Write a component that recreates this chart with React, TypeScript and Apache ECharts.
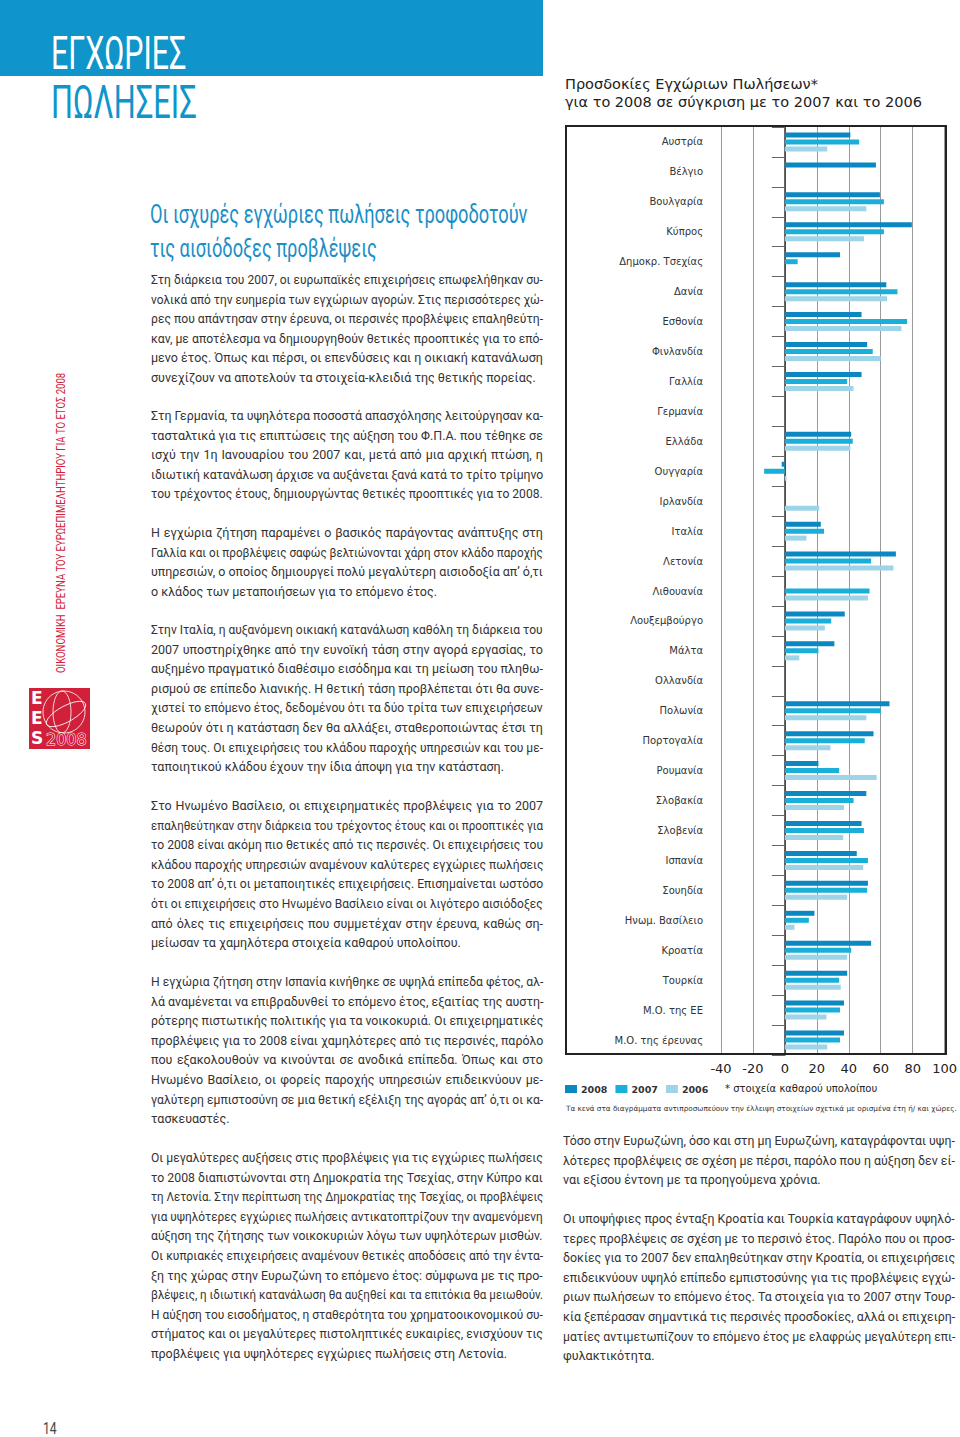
import React, { useEffect, useLayoutEffect, useRef } from "react";
import * as echarts from "echarts";

// ---------- chart data ----------
const categories = [
  "Αυστρία", "Βέλγιο", "Βουλγαρία", "Κύπρος", "Δημοκρ. Τσεχίας", "Δανία", "Εσθονία",
  "Φινλανδία", "Γαλλία", "Γερμανία", "Ελλάδα", "Ουγγαρία", "Ιρλανδία", "Ιταλία",
  "Λετονία", "Λιθουανία", "Λουξεμβούργο", "Μάλτα", "Ολλανδία", "Πολωνία", "Πορτογαλία",
  "Ρουμανία", "Σλοβακία", "Σλοβενία", "Ισπανία", "Σουηδία", "Ηνωμ. Βασίλειο", "Κροατία",
  "Τουρκία", "Μ.Ο. της ΕΕ", "Μ.Ο. της έρευνας",
];
const values2008 = [41, 57, 59.5, 79.5, 34.5, 63.5, 48, 51.5, 48, null, 41.5, -2, null, 22.5,
  69.5, null, 37.5, 31, null, 65.5, 55.5, 21, 51, 48, 45, 52, 18.5, 54, 39, 37, 37];
const values2007 = [46.5, null, 62, 62, 8, 70.5, 76.5, 55, 39, null, 42.5, -13, null, 24.5,
  54, 53, 29, 21, null, 60, 50, 34, 43, 49.5, 52, 51.5, 15, 41.5, 34, 34.5, 34.5];
const values2006 = [26.5, null, 51, 49.5, null, 64, 73, 60, 43, null, 41, 1, 21.5, 13.5,
  68, 52, 25, 9, null, 51, 28.5, 57.5, 37, 36.5, 49, 39, 6, 39, 35, 26, 26.5];
const seriesNames = ["2008", "2007", "2006"];
const xMin = -40;
const xMax = 100;
const xStep = 20;

const chartTitle = ["Προσδοκίες Εγχώριων Πωλήσεων*", "για το 2008 σε σύγκριση με το 2007 και το 2006"];
const noteText = "* στοιχεία καθαρού υπολοίπου";
const footText = "Τα κενά στα διαγράμματα αντιπροσωπεύουν την έλλειψη στοιχείων σχετικά με ορισμένα έτη ή/ και χώρες.";

// ---------- page texts ----------
const pageTitle = ["ΕΓΧΩΡΙΕΣ", "ΠΩΛΗΣΕΙΣ"];
const subTitle = ["Οι ισχυρές εγχώριες πωλήσεις τροφοδοτούν", "τις αισιόδοξες προβλέψεις"];
const sideText = "ΟΙΚΟΝΟΜΙΚΗ  ΕΡΕΥΝΑ ΤΟΥ ΕΥΡΩΕΠΙΜΕΛΗΤΗΡΙΟΥ ΓΙΑ ΤΟ ΕΤΟΣ 2008";
const pageNumber = "14";

const para1 = [
  "Στη διάρκεια του 2007, οι ευρωπαϊκές επιχειρήσεις επωφελήθηκαν συ-",
  "νολικά από την ευημερία των εγχώριων αγορών. Στις περισσότερες χώ-",
  "ρες που απάντησαν στην έρευνα, οι περσινές προβλέψεις επαληθεύτη-",
  "καν, με αποτέλεσμα να δημιουργηθούν θετικές προοπτικές για το επό-",
  "μενο έτος. Όπως και πέρσι, οι επενδύσεις και η οικιακή κατανάλωση",
  "συνεχίζουν να αποτελούν τα στοιχεία-κλειδιά της θετικής πορείας.",
];
const para2 = [
  "Στη Γερμανία, τα υψηλότερα ποσοστά απασχόλησης λειτούργησαν κα-",
  "τασταλτικά για τις επιπτώσεις της αύξηση του Φ.Π.Α. που τέθηκε σε",
  "ισχύ την 1η Ιανουαρίου του 2007 και, μετά από μια αρχική πτώση, η",
  "ιδιωτική κατανάλωση άρχισε να αυξάνεται ξανά κατά το τρίτο τρίμηνο",
  "του τρέχοντος έτους, δημιουργώντας θετικές προοπτικές για το 2008.",
];
const para3 = [
  "Η εγχώρια ζήτηση παραμένει ο βασικός παράγοντας ανάπτυξης στη",
  "Γαλλία και οι προβλέψεις σαφώς βελτιώνονται χάρη στον κλάδο παροχής",
  "υπηρεσιών, ο οποίος δημιουργεί πολύ μεγαλύτερη αισιοδοξία απ’ ό,τι",
  "ο κλάδος των μεταποιήσεων για το επόμενο έτος.",
];
const para4 = [
  "Στην Ιταλία, η αυξανόμενη οικιακή κατανάλωση καθόλη τη διάρκεια του",
  "2007 υποστηρίχθηκε από την ευνοϊκή τάση στην αγορά εργασίας, το",
  "αυξημένο πραγματικό διαθέσιμο εισόδημα και τη μείωση του πληθω-",
  "ρισμού σε επίπεδο λιανικής. Η θετική τάση προβλέπεται ότι θα συνε-",
  "χιστεί το επόμενο έτος, δεδομένου ότι τα δύο τρίτα των επιχειρήσεων",
  "θεωρούν ότι η κατάσταση δεν θα αλλάξει, σταθεροποιώντας έτσι τη",
  "θέση τους. Οι επιχειρήσεις του κλάδου παροχής υπηρεσιών και του με-",
  "ταποιητικού κλάδου έχουν την ίδια άποψη για την κατάσταση.",
];
const para5 = [
  "Στο Ηνωμένο Βασίλειο, οι επιχειρηματικές προβλέψεις για το 2007",
  "επαληθεύτηκαν στην διάρκεια του τρέχοντος έτους και οι προοπτικές για",
  "το 2008 είναι ακόμη πιο θετικές από τις περσινές. Οι επιχειρήσεις του",
  "κλάδου παροχής υπηρεσιών αναμένουν καλύτερες εγχώριες πωλήσεις",
  "το 2008 απ’ ό,τι οι μεταποιητικές επιχειρήσεις. Επισημαίνεται ωστόσο",
  "ότι οι επιχειρήσεις στο Ηνωμένο Βασίλειο είναι οι λιγότερο αισιόδοξες",
  "από όλες τις επιχειρήσεις που συμμετέχαν στην έρευνα, καθώς ση-",
  "μείωσαν τα χαμηλότερα στοιχεία καθαρού υπολοίπου.",
];
const para6 = [
  "Η εγχώρια ζήτηση στην Ισπανία κινήθηκε σε υψηλά επίπεδα φέτος, αλ-",
  "λά αναμένεται να επιβραδυνθεί το επόμενο έτος, εξαιτίας της αυστη-",
  "ρότερης πιστωτικής πολιτικής για τα νοικοκυριά. Οι επιχειρηματικές",
  "προβλέψεις για το 2008 είναι χαμηλότερες από τις περσινές, παρόλο",
  "που εξακολουθούν να κινούνται σε ανοδικά επίπεδα. Όπως και στο",
  "Ηνωμένο Βασίλειο, οι φορείς παροχής υπηρεσιών επιδεικνύουν με-",
  "γαλύτερη εμπιστοσύνη σε μια θετική εξέλιξη της αγοράς απ’ ό,τι οι κα-",
  "τασκευαστές.",
];
const para7 = [
  "Οι μεγαλύτερες αυξήσεις στις προβλέψεις για τις εγχώριες πωλήσεις",
  "το 2008 διαπιστώνονται στη Δημοκρατία της Τσεχίας, στην Κύπρο και",
  "τη Λετονία. Στην περίπτωση της Δημοκρατίας της Τσεχίας, οι προβλέψεις",
  "για υψηλότερες εγχώριες πωλήσεις αντικατοπτρίζουν την αναμενόμενη",
  "αύξηση της ζήτησης των νοικοκυριών λόγω των υψηλότερων μισθών.",
  "Οι κυπριακές επιχειρήσεις αναμένουν θετικές αποδόσεις από την έντα-",
  "ξη της χώρας στην Ευρωζώνη το επόμενο έτος: σύμφωνα με τις προ-",
  "βλέψεις, η ιδιωτική κατανάλωση θα αυξηθεί και τα επιτόκια θα μειωθούν.",
  "Η αύξηση του εισοδήματος, η σταθερότητα του χρηματοοικονομικού συ-",
  "στήματος και οι μεγαλύτερες πιστοληπτικές ευκαιρίες, ενισχύουν τις",
  "προβλέψεις για υψηλότερες εγχώριες πωλήσεις στη Λετονία.",
];
const para8 = [
  "Τόσο στην Ευρωζώνη, όσο και στη μη Ευρωζώνη, καταγράφονται υψη-",
  "λότερες προβλέψεις σε σχέση με πέρσι, παρόλο που η αύξηση δεν εί-",
  "ναι εξίσου έντονη με τα προηγούμενα χρόνια.",
];
const para9 = [
  "Οι υποψήφιες προς ένταξη Κροατία και Τουρκία καταγράφουν υψηλό-",
  "τερες προβλέψεις σε σχέση με το περσινό έτος. Παρόλο που οι προσ-",
  "δοκίες για το 2007 δεν επαληθεύτηκαν στην Κροατία, οι επιχειρήσεις",
  "επιδεικνύουν υψηλό επίπεδο εμπιστοσύνης για τις προβλέψεις εγχώ-",
  "ριων πωλήσεων το επόμενο έτος. Τα στοιχεία για το 2007 στην Τουρ-",
  "κία ξεπέρασαν σημαντικά τις περσινές προσδοκίες, αλλά οι επιχειρη-",
  "ματίες αντιμετωπίζουν το επόμενο έτος με ελαφρώς μεγαλύτερη επι-",
  "φυλακτικότητα.",
];

// ---------- layout / style ----------
const BLUE = "#0f95ca";
const RED = "#d1213a";
const COLORS = ["#0b87c2", "#19afd8", "#9dd4e8"];
const STEP = 19.55;
const layout = [
  { lines: para1, left: 151, top: 280 },
  { lines: para2, left: 151, top: 416 },
  { lines: para3, left: 151, top: 533 },
  { lines: para4, left: 151, top: 630 },
  { lines: para5, left: 151, top: 806 },
  { lines: para6, left: 151, top: 982 },
  { lines: para7, left: 151, top: 1158 },
  { lines: para8, left: 563, top: 1141 },
  { lines: para9, left: 563, top: 1219 },
];
const COL_W = 392;

function Para({ lines, left, top }: { lines: string[]; left: number; top: number }) {
  return (
    <>
      {lines.map((ln, i) => {
        const words = ln.split(" ");
        const last = i === lines.length - 1;
        return (
          <div
            key={i}
            className="ln"
            style={{
              position: "absolute",
              left,
              top: top + i * STEP - STEP / 2,
              width: COL_W,
              height: STEP,
              lineHeight: STEP + "px",
              display: "flex",
              justifyContent: last ? "flex-start" : "space-between",
              whiteSpace: "pre",
              transformOrigin: "left center",
            }}
          >
            {words.map((w, j) => (
              <span key={j}>{w + (j < words.length - 1 ? " " : "")}</span>
            ))}
          </div>
        );
      })}
    </>
  );
}

export default function App() {
  const ref = useRef<HTMLDivElement>(null);
  const textRef = useRef<HTMLDivElement>(null);

  useLayoutEffect(() => {
    if (!textRef.current) return;
    textRef.current.querySelectorAll<HTMLDivElement>(".ln").forEach((el) => {
      const sw = el.scrollWidth;
      const cw = el.clientWidth;
      if (sw > cw + 0.5) el.style.transform = `scaleX(${cw / sw})`;
    });
  }, []);

  useEffect(() => {
    if (!ref.current) return;
    const chart = echarts.init(ref.current, null, { renderer: "svg" });
    const T = (o: any) => ({ type: "text", silent: true, ...o });
    const txtStyle = (s: any) => ({
      align: "left",
      verticalAlign: "middle",
      textAlign: "left",
      textVerticalAlign: "middle",
      ...s,
    });
    const graphic: any[] = [
      { type: "rect", silent: true, shape: { x: 0, y: 0, width: 543, height: 76 }, style: { fill: BLUE } },
      T({ x: 51, y: 54, scaleX: 0.66, style: txtStyle({ text: pageTitle[0], fill: "#ffffff", fontSize: 46, fontFamily: "Roboto" }) }),
      T({ x: 51, y: 103, scaleX: 0.67, style: txtStyle({ text: pageTitle[1], fill: BLUE, fontSize: 46, fontFamily: "Roboto" }) }),
      T({ x: 150, y: 214, scaleX: 0.73, style: txtStyle({ text: subTitle[0], fill: "#1a8fc6", fontSize: 25, fontFamily: "Roboto" }) }),
      T({ x: 150, y: 248, scaleX: 0.73, style: txtStyle({ text: subTitle[1], fill: "#1a8fc6", fontSize: 25, fontFamily: "Roboto" }) }),
      T({ x: 61, y: 673, rotation: Math.PI / 2, scaleX: 0.765, style: txtStyle({ text: sideText, fill: RED, fontSize: 12.5, fontFamily: "Roboto" }) }),
      T({ x: 43, y: 1428, scaleX: 0.72, style: txtStyle({ text: pageNumber, fill: "#444", fontSize: 17, fontFamily: "Roboto" }) }),
      // logo
      { type: "rect", silent: true, shape: { x: 29, y: 688, width: 61, height: 61 }, style: { fill: RED } },
      { type: "circle", silent: true, shape: { cx: 64, cy: 712, r: 21 }, style: { fill: "none", stroke: "#fff", lineWidth: 0.8 } },
      { type: "ellipse", silent: true, shape: { cx: 62, cy: 712, rx: 9, ry: 21 }, style: { fill: "none", stroke: "#fff", lineWidth: 0.8 } },
      { type: "ellipse", silent: true, rotation: 0.5, x: 66, y: 714, shape: { cx: 0, cy: 0, rx: 22, ry: 8 }, style: { fill: "none", stroke: "#fff", lineWidth: 0.8 } },
      T({ x: 31, y: 698, style: txtStyle({ text: "E", fill: "#fff", fontSize: 17, fontWeight: "bold", fontFamily: "DejaVu Sans" }) }),
      T({ x: 31, y: 718, style: txtStyle({ text: "E", fill: "#fff", fontSize: 17, fontWeight: "bold", fontFamily: "DejaVu Sans" }) }),
      T({ x: 31, y: 738, style: txtStyle({ text: "S", fill: "#fff", fontSize: 17, fontWeight: "bold", fontFamily: "DejaVu Sans" }) }),
      T({ x: 46, y: 739, style: txtStyle({ text: "2008", fill: RED, stroke: "#fff", lineWidth: 1, fontSize: 16, fontFamily: "DejaVu Sans" }) }),
      // chart frame
      { type: "rect", silent: true, z: 10, shape: { x: 566, y: 126, width: 380, height: 928 }, style: { fill: "none", stroke: "#222", lineWidth: 2 } },
      T({ x: 725, y: 1088, style: txtStyle({ text: noteText, fill: "#222", fontSize: 10, fontFamily: "DejaVu Sans" }) }),
      T({ x: 566, y: 1108, style: txtStyle({ text: footText, fill: "#333", fontSize: 7.25, fontFamily: "DejaVu Sans" }) }),
    ];

    const mk = (name: string, data: (number | null)[], color: string) => ({
      name,
      type: "bar",
      data,
      barWidth: 5,
      barGap: "40%",
      itemStyle: { color },
      emphasis: { disabled: true },
    });

    chart.setOption({
      animation: false,
      title: {
        text: chartTitle.join("\n"),
        left: 565,
        top: 75,
        padding: 0,
        textStyle: { fontSize: 14.5, lineHeight: 18, fontWeight: "normal", color: "#222", fontFamily: "DejaVu Sans" },
      },
      legend: {
        data: seriesNames,
        left: 565,
        top: 1084,
        padding: 0,
        itemWidth: 12,
        itemHeight: 8,
        itemGap: 8,
        icon: "rect",
        selectedMode: false,
        textStyle: { fontSize: 9.5, fontWeight: "bold", color: "#333", fontFamily: "DejaVu Sans", padding: [0, 0, 0, -1] },
      },
      grid: { left: 721, right: 14, top: 127, bottom: 382, containLabel: false },
      xAxis: {
        type: "value",
        min: xMin,
        max: xMax,
        interval: xStep,
        axisLine: { show: false },
        axisTick: { show: false },
        splitLine: { show: true, lineStyle: { color: "#9a9a9a", width: 1 } },
        axisLabel: { fontSize: 13, color: "#222", margin: 7, fontFamily: "DejaVu Sans", showMinLabel: true, showMaxLabel: true, hideOverlap: false },
      },
      yAxis: {
        type: "category",
        inverse: true,
        data: categories,
        axisLine: { show: true, lineStyle: { color: "#333", width: 1.5 } },
        axisTick: { show: true, length: 13, lineStyle: { color: "#666", width: 1 } },
        axisLabel: { interval: 0, fontSize: 10, color: "#333", margin: 18, fontFamily: "DejaVu Sans" },
        splitLine: { show: false },
      },
      series: [
        mk(seriesNames[0], values2008, COLORS[0]),
        mk(seriesNames[1], values2007, COLORS[1]),
        mk(seriesNames[2], values2006, COLORS[2]),
      ],
      graphic,
    });
    return () => chart.dispose();
  }, []);

  return (
    <div style={{ position: "absolute", left: 0, top: 0, width: 960, height: 1437, background: "#fff" }}>
      <div ref={ref} style={{ position: "absolute", left: 0, top: 0, width: 960, height: 1437 }} />
      <div
        ref={textRef}
        style={{ position: "absolute", left: 0, top: 0, fontFamily: "Roboto, 'Noto Sans', sans-serif", fontSize: 12.5, color: "#333" }}
      >
        {layout.map((p, i) => (
          <Para key={i} lines={p.lines} left={p.left} top={p.top} />
        ))}
      </div>
    </div>
  );
}
